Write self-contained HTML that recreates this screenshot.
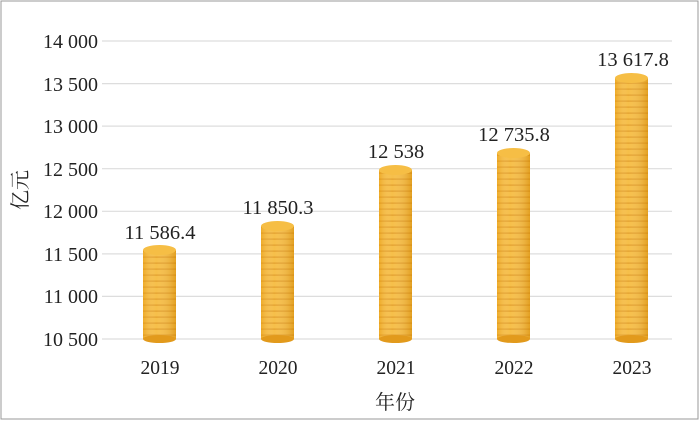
<!DOCTYPE html>
<html><head><style>
body{margin:0;background:#fff}
text{font-family:"Liberation Serif","Noto Serif CJK SC",serif;fill:#222}
</style></head><body>
<svg width="699" height="420" xmlns="http://www.w3.org/2000/svg">
<defs>
<pattern id="st" width="10" height="6" patternUnits="userSpaceOnUse">
<rect width="10" height="6" fill="#F5B630"/>
<rect y="4.3" width="10" height="1.7" fill="#E49C1A"/>
</pattern>
<linearGradient id="sh" x1="0" x2="1">
<stop offset="0" stop-color="#E8A020" stop-opacity=".5"/>
<stop offset=".4" stop-color="#fff" stop-opacity=".12"/>
<stop offset="1" stop-color="#D08810" stop-opacity=".5"/>
</linearGradient>
</defs>
<rect x="1" y="1" width="697" height="418" fill="none" stroke="#999" stroke-width="1"/>
<g stroke="#ddd" stroke-width="1.2">
<line x1="102" x2="672" y1="41" y2="41"/><line x1="102" x2="672" y1="83.6" y2="83.6"/>
<line x1="102" x2="672" y1="126.1" y2="126.1"/><line x1="102" x2="672" y1="168.7" y2="168.7"/>
<line x1="102" x2="672" y1="211.3" y2="211.3"/><line x1="102" x2="672" y1="253.9" y2="253.9"/>
<line x1="102" x2="672" y1="296.4" y2="296.4"/><line x1="102" x2="672" y1="339" y2="339"/>
</g>
<g font-size="20" text-anchor="end">
<text x="98" y="48">14 000</text><text x="98" y="91">13 500</text>
<text x="98" y="133">13 000</text><text x="98" y="176">12 500</text>
<text x="98" y="218">12 000</text><text x="98" y="261">11 500</text>
<text x="98" y="303">11 000</text><text x="98" y="346">10 500</text>
</g>
<text font-size="20" transform="translate(27,190) rotate(-90)" text-anchor="middle">亿元</text>
<g>
<rect x="143" y="250" width="33" height="89" fill="url(#st)"/><rect x="143" y="250" width="33" height="89" fill="url(#sh)"/>
<ellipse cx="159.5" cy="339" rx="16.5" ry="4" fill="#E29A1C"/><ellipse cx="159.5" cy="250" rx="16.5" ry="5" fill="#F6BE45"/>
<rect x="261" y="226" width="33" height="113" fill="url(#st)"/><rect x="261" y="226" width="33" height="113" fill="url(#sh)"/>
<ellipse cx="277.5" cy="339" rx="16.5" ry="4" fill="#E29A1C"/><ellipse cx="277.5" cy="226" rx="16.5" ry="5" fill="#F6BE45"/>
<rect x="379" y="170" width="33" height="169" fill="url(#st)"/><rect x="379" y="170" width="33" height="169" fill="url(#sh)"/>
<ellipse cx="395.5" cy="339" rx="16.5" ry="4" fill="#E29A1C"/><ellipse cx="395.5" cy="170" rx="16.5" ry="5" fill="#F6BE45"/>
<rect x="497" y="153" width="33" height="186" fill="url(#st)"/><rect x="497" y="153" width="33" height="186" fill="url(#sh)"/>
<ellipse cx="513.5" cy="339" rx="16.5" ry="4" fill="#E29A1C"/><ellipse cx="513.5" cy="153" rx="16.5" ry="5" fill="#F6BE45"/>
<rect x="615" y="78" width="33" height="261" fill="url(#st)"/><rect x="615" y="78" width="33" height="261" fill="url(#sh)"/>
<ellipse cx="631.5" cy="339" rx="16.5" ry="4" fill="#E29A1C"/><ellipse cx="631.5" cy="78" rx="16.5" ry="5" fill="#F6BE45"/>
</g>
<g font-size="20.5" text-anchor="middle">
<text x="160" y="239">11 586.4</text><text x="278" y="214">11 850.3</text>
<text x="396" y="158">12 538</text><text x="514" y="141">12 735.8</text>
<text x="633" y="66">13 617.8</text>
</g>
<g font-size="19.5" text-anchor="middle">
<text x="160" y="374">2019</text><text x="278" y="374">2020</text><text x="396" y="374">2021</text>
<text x="514" y="374">2022</text><text x="632" y="374">2023</text>
</g>
<text font-size="20" x="395" y="409" text-anchor="middle">年份</text>
</svg>
</body></html>
